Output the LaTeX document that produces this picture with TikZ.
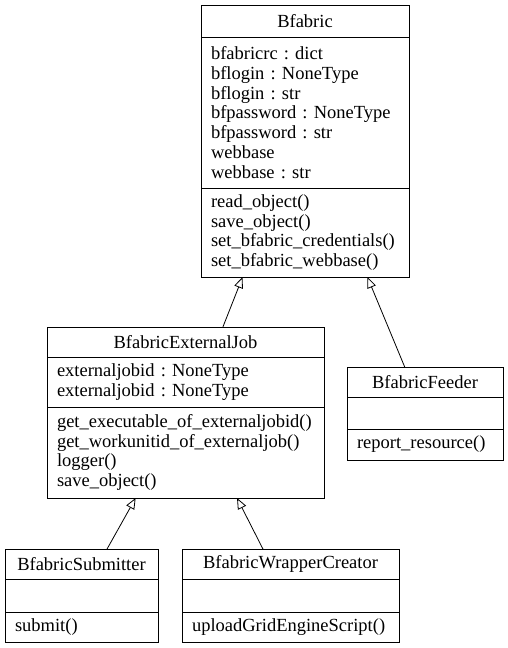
\documentclass[tikz,border=0pt]{standalone}
\usepackage{fontspec}
\setmainfont{Liberation Serif}
\usetikzlibrary{positioning,calc,arrows.meta}

\tikzset{
  classfont/.style={font=\fontsize{18.5}{19.8}\selectfont\frenchspacing},
  umlhead/.style={draw,line width=.8pt,inner sep=0pt,outer sep=0pt,classfont},
  umlpart/.style={draw,line width=.8pt,inner xsep=10pt,inner ysep=0pt,outer sep=0pt,align=left,classfont},
  extends/.style={line width=.8pt,-{Triangle[open,length=11pt,width=9pt]}}
}

\begin{document}
\begin{tikzpicture}[x=1pt,y=-1pt]
\useasboundingbox (0,0) rectangle (508,648);

% base class
\node[umlhead,minimum width=208,minimum height=32] (bfabric) at (305,21) {Bfabric};
\node[umlpart,below=0pt of bfabric,minimum width=208,text width=188,minimum height=151] (bfabricattr)
  {bfabricrc : dict\\bflogin : NoneType\\bflogin : str\\bfpassword : NoneType\\bfpassword : str\\webbase\\webbase : str};
\node[umlpart,below=0pt of bfabricattr,minimum width=208,text width=188,minimum height=89] (bfabricmeth)
  {read\_object()\\save\_object()\\set\_bfabric\_credentials()\\set\_bfabric\_webbase()};

% middle row
\node[umlhead,minimum width=277,minimum height=30] (extjob) at (185.5,342) {BfabricExternalJob};
\node[umlpart,below=0pt of extjob,minimum width=277,text width=257,minimum height=50] (extjobattr)
  {externaljobid : NoneType\\externaljobid : NoneType};
\node[umlpart,below=0pt of extjobattr,minimum width=277,text width=257,minimum height=91] (extjobmeth)
  {get\_executable\_of\_externaljobid()\\get\_workunitid\_of\_externaljob()\\logger()\\save\_object()};

\node[umlhead,minimum width=156,minimum height=30] (feeder) at (425,382) {BfabricFeeder};
\node[umlpart,below=0pt of feeder,minimum width=156,text width=136,minimum height=32] (feederattr) {};
\node[umlpart,below=0pt of feederattr,minimum width=156,text width=136,minimum height=31] (feedermeth)
  {report\_resource()};

% bottom row
\node[umlhead,minimum width=153,minimum height=30] (submitter) at (81.5,564) {BfabricSubmitter};
\node[umlpart,below=0pt of submitter,minimum width=153,text width=133,minimum height=33] (submitterattr) {};
\node[umlpart,below=0pt of submitterattr,minimum width=153,text width=133,minimum height=30] (submittermeth)
  {submit()};

\node[umlhead,minimum width=217,minimum height=30] (wrapper) at (290.5,564) {BfabricWrapperCreator};
\node[umlpart,below=0pt of wrapper,minimum width=217,text width=197,minimum height=33] (wrapperattr) {};
\node[umlpart,below=0pt of wrapperattr,minimum width=217,text width=197,minimum height=30] (wrappermeth)
  {uploadGridEngineScript()};

% inheritance
\draw[extends] ($(extjob.north west)!.635!(extjob.north east)$) -- ($(bfabricmeth.south west)!.2!(bfabricmeth.south east)$);
\draw[extends] ($(feeder.north west)!.37!(feeder.north east)$) -- ($(bfabricmeth.south west)!.8!(bfabricmeth.south east)$);
\draw[extends] ($(submitter.north west)!.667!(submitter.north east)$) -- ($(extjobmeth.south west)!.32!(extjobmeth.south east)$);
\draw[extends] ($(wrapper.north west)!.373!(wrapper.north east)$) -- ($(extjobmeth.south west)!.686!(extjobmeth.south east)$);

\end{tikzpicture}
\end{document}
